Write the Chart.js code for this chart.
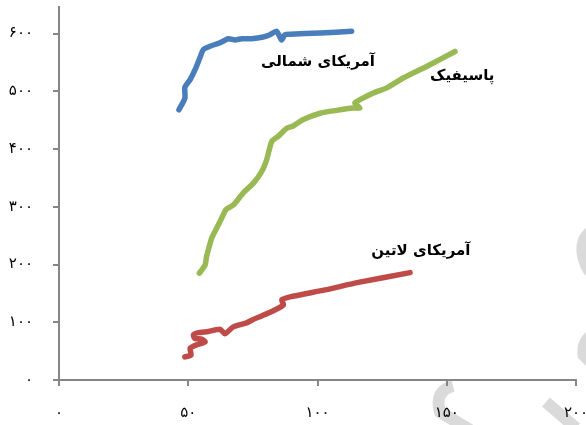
<!DOCTYPE html>
<html lang="fa">
<head>
    <meta charset="UTF-8">
    <title>آمریکای شمالی، پاسیفیک، آمریکای لاتین</title>
    <script src="https://cdn.jsdelivr.net/npm/chart.js"></script>
    <style>
        body { margin: 0; background: #fff; }
    </style>
</head>
<body>
    <canvas id="regionChart" width="586" height="425"></canvas>

    <script>
        // tick values for both axes
        const xTicks = [0, 50, 100, 150, 200];
        const yTicks = [0, 100, 200, 300, 400, 500, 600];

        // آمریکای شمالی
        const northX = [46.4, 48.7, 48.7, 50.7, 52.6, 54.5, 55.8, 58.4, 62.3, 65.5, 68.1, 70.7, 74.5, 79.0, 81.6, 84.2, 86.1, 87.4, 89.4, 101.0, 113.2];
        const northY = [468, 488, 507, 520, 537, 558, 572, 578, 584, 591, 589, 591, 591, 594, 598, 604, 589, 598, 599, 601, 604];

        // پاسیفیک
        const pacificX = [54.3, 56.5, 57.1, 58.1, 59.1, 61.0, 62.9, 64.6, 67.4, 71.3, 75.2, 78.4, 80.3, 82.3, 84.8, 88.1, 90.6, 94.5, 101.0, 107.4, 113.8, 116.4, 114.5, 121.6, 126.8, 133.2, 143.5, 153.2];
        const pacificY = [185, 199, 214, 231, 246, 263, 280, 295, 303, 324, 341, 361, 381, 413, 422, 436, 440, 451, 462, 467, 471, 471, 480, 497, 506, 523, 546, 569];

        // آمریکای لاتین
        const latinX = [48.7, 51.1, 50.7, 53.3, 56.5, 55.2, 52.6, 52.0, 53.9, 57.8, 62.3, 64.2, 67.4, 72.6, 75.2, 78.4, 82.9, 86.8, 86.2, 89.4, 102.9, 115.8, 135.8];
        const latinY = [40, 43, 55, 61, 66, 71, 72, 78, 82, 84, 88, 80, 92, 99, 105, 111, 120, 130, 139, 144, 156, 169, 186];

        const seriesNames = ['آمریکای شمالی', 'پاسیفیک', 'آمریکای لاتین'];
        // where each series name sits, in axis units
        const nameAnchorX = [100.2, 156.0, 140.0];
        const nameAnchorY = [551, 526, 223];

        const colors = ['#4a7ebb', '#98b954', '#be4b48'];

        const toPersian = n => String(n).replace(/\d/g, d => '۰۱۲۳۴۵۶۷۸۹'[d]);
        const zip = (xs, ys) => xs.map((x, i) => ({ x: x, y: ys[i] }));

        const lineStyle = color => ({
            borderColor: color,
            backgroundColor: color,
            borderWidth: 5.5,
            pointRadius: 0,
            showLine: true,
            tension: 0.2,
            borderCapStyle: 'round',
            borderJoinStyle: 'round'
        });

        // faint logo stamped over the lower right corner
        const stampPlugin = {
            id: 'stamp',
            beforeDraw(chart) {
                const ctx = chart.ctx;
                ctx.save();
                ctx.fillStyle = '#dadada';
                ctx.strokeStyle = '#dadada';
                ctx.beginPath();
                ctx.moveTo(586, 228);
                ctx.quadraticCurveTo(574, 238, 577, 256);
                ctx.quadraticCurveTo(580, 270, 586, 276);
                ctx.closePath();
                ctx.fill();
                ctx.beginPath();
                ctx.moveTo(586, 332);
                ctx.quadraticCurveTo(575, 342, 578, 358);
                ctx.lineTo(586, 366);
                ctx.closePath();
                ctx.fill();
                ctx.lineWidth = 12;
                ctx.lineCap = 'butt';
                ctx.beginPath();
                ctx.moveTo(546, 402);
                ctx.lineTo(576, 428);
                ctx.stroke();
                ctx.beginPath();
                ctx.moveTo(453, 386);
                ctx.quadraticCurveTo(434, 391, 440, 412);
                ctx.lineTo(470, 430);
                ctx.stroke();
                ctx.restore();
            }
        };

        const namesPlugin = {
            id: 'seriesNames',
            afterDatasetsDraw(chart) {
                const ctx = chart.ctx;
                const xs = chart.scales.x;
                const ys = chart.scales.y;
                ctx.save();
                ctx.font = 'bold 15px "DejaVu Sans"';
                ctx.fillStyle = '#000';
                ctx.textAlign = 'center';
                ctx.textBaseline = 'middle';
                ctx.direction = 'rtl';
                seriesNames.forEach((name, i) => {
                    ctx.fillText(name, xs.getPixelForValue(nameAnchorX[i]), ys.getPixelForValue(nameAnchorY[i]));
                });
                ctx.restore();
            }
        };

        const axisColor = '#868686';

        new Chart(document.getElementById('regionChart'), {
            type: 'scatter',
            data: {
                datasets: [
                    Object.assign({ label: seriesNames[0], data: zip(northX, northY) }, lineStyle(colors[0])),
                    Object.assign({ label: seriesNames[1], data: zip(pacificX, pacificY) }, lineStyle(colors[1])),
                    Object.assign({ label: seriesNames[2], data: zip(latinX, latinY) }, lineStyle(colors[2]))
                ]
            },
            options: {
                responsive: false,
                animation: false,
                layout: { padding: { top: 7, left: 0, right: 10, bottom: 0 } },
                plugins: {
                    legend: { display: false },
                    tooltip: { enabled: false }
                },
                scales: {
                    x: {
                        type: 'linear',
                        min: 0,
                        max: 200,
                        afterBuildTicks: s => { s.ticks = xTicks.map(v => ({ value: v })); },
                        afterFit: s => { s.height = 45; s.paddingLeft = 0; s.paddingRight = 0; },
                        border: { color: axisColor, width: 2 },
                        grid: { drawOnChartArea: false, tickLength: 6, color: axisColor, lineWidth: 2 },
                        ticks: {
                            padding: 18,
                            maxRotation: 0,
                            autoSkip: false,
                            color: '#000',
                            font: { family: '"DejaVu Sans"', size: 15 },
                            callback: v => toPersian(v)
                        }
                    },
                    y: {
                        type: 'linear',
                        min: 0,
                        max: 646,
                        afterBuildTicks: s => { s.ticks = yTicks.map(v => ({ value: v })); },
                        afterFit: s => { s.width = 59; s.paddingTop = 0; s.paddingBottom = 0; },
                        border: { color: axisColor, width: 2 },
                        grid: { drawOnChartArea: false, tickLength: 6, color: axisColor, lineWidth: 2 },
                        ticks: {
                            padding: 20,
                            autoSkip: false,
                            color: '#000',
                            font: { family: '"DejaVu Sans"', size: 15 },
                            callback: v => toPersian(v)
                        }
                    }
                }
            },
            plugins: [stampPlugin, namesPlugin]
        });
    </script>
</body>
</html>
